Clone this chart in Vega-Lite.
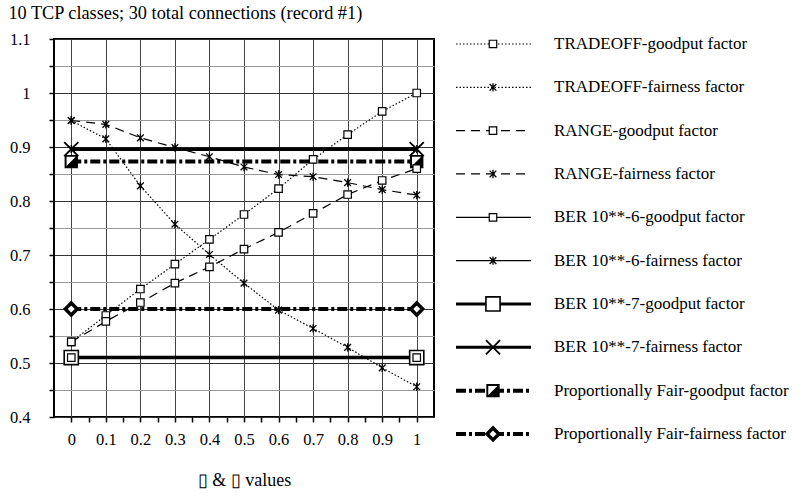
{
  "$schema": "https://vega.github.io/schema/vega-lite/v6.json",
  "padding": {"left": 8, "top": 3, "right": 0, "bottom": 0},
  "background": "white",
  "config": {
    "font": "Liberation Serif",
    "view": {"stroke": null},
    "concat": {"spacing": 22}
  },
  "title": {"text": "10 TCP classes; 30 total connections (record #1)", "anchor": "start", "fontSize": 18.3, "fontWeight": "normal", "font": "Liberation Serif", "color": "black", "offset": 7},
  "bounds": "flush",
  "datasets": {
    "main": [
      {"s": "BER 10**-7-goodput factor", "x": 0, "y": 0.51},
      {"s": "BER 10**-7-goodput factor", "x": 1, "y": 0.51},
      {"s": "BER 10**-7-fairness factor", "x": 0, "y": 0.896},
      {"s": "BER 10**-7-fairness factor", "x": 1, "y": 0.896},
      {"s": "Proportionally Fair-goodput factor", "x": 0, "y": 0.873},
      {"s": "Proportionally Fair-goodput factor", "x": 1, "y": 0.873},
      {"s": "Proportionally Fair-fairness factor", "x": 0, "y": 0.6},
      {"s": "Proportionally Fair-fairness factor", "x": 1, "y": 0.6},
      {"s": "BER 10**-6-goodput factor", "x": 0, "y": 0.51},
      {"s": "BER 10**-6-goodput factor", "x": 1, "y": 0.51},
      {"s": "BER 10**-6-fairness factor", "x": 0, "y": 0.896},
      {"s": "BER 10**-6-fairness factor", "x": 1, "y": 0.896},
      {"s": "TRADEOFF-goodput factor", "x": 0, "y": 0.539},
      {"s": "TRADEOFF-goodput factor", "x": 0.1, "y": 0.588},
      {"s": "TRADEOFF-goodput factor", "x": 0.2, "y": 0.637},
      {"s": "TRADEOFF-goodput factor", "x": 0.3, "y": 0.683},
      {"s": "TRADEOFF-goodput factor", "x": 0.4, "y": 0.729},
      {"s": "TRADEOFF-goodput factor", "x": 0.5, "y": 0.775},
      {"s": "TRADEOFF-goodput factor", "x": 0.6, "y": 0.823},
      {"s": "TRADEOFF-goodput factor", "x": 0.7, "y": 0.877},
      {"s": "TRADEOFF-goodput factor", "x": 0.8, "y": 0.923},
      {"s": "TRADEOFF-goodput factor", "x": 0.9, "y": 0.966},
      {"s": "TRADEOFF-goodput factor", "x": 1, "y": 1.0},
      {"s": "TRADEOFF-fairness factor", "x": 0, "y": 0.949},
      {"s": "TRADEOFF-fairness factor", "x": 0.1, "y": 0.915},
      {"s": "TRADEOFF-fairness factor", "x": 0.2, "y": 0.828},
      {"s": "TRADEOFF-fairness factor", "x": 0.3, "y": 0.757},
      {"s": "TRADEOFF-fairness factor", "x": 0.4, "y": 0.701},
      {"s": "TRADEOFF-fairness factor", "x": 0.5, "y": 0.648},
      {"s": "TRADEOFF-fairness factor", "x": 0.6, "y": 0.598},
      {"s": "TRADEOFF-fairness factor", "x": 0.7, "y": 0.564},
      {"s": "TRADEOFF-fairness factor", "x": 0.8, "y": 0.529},
      {"s": "TRADEOFF-fairness factor", "x": 0.9, "y": 0.491},
      {"s": "TRADEOFF-fairness factor", "x": 1, "y": 0.456},
      {"s": "RANGE-goodput factor", "x": 0, "y": 0.539},
      {"s": "RANGE-goodput factor", "x": 0.1, "y": 0.577},
      {"s": "RANGE-goodput factor", "x": 0.2, "y": 0.612},
      {"s": "RANGE-goodput factor", "x": 0.3, "y": 0.648},
      {"s": "RANGE-goodput factor", "x": 0.4, "y": 0.678},
      {"s": "RANGE-goodput factor", "x": 0.5, "y": 0.711},
      {"s": "RANGE-goodput factor", "x": 0.6, "y": 0.742},
      {"s": "RANGE-goodput factor", "x": 0.7, "y": 0.777},
      {"s": "RANGE-goodput factor", "x": 0.8, "y": 0.812},
      {"s": "RANGE-goodput factor", "x": 0.9, "y": 0.838},
      {"s": "RANGE-goodput factor", "x": 1, "y": 0.86},
      {"s": "RANGE-fairness factor", "x": 0, "y": 0.949},
      {"s": "RANGE-fairness factor", "x": 0.1, "y": 0.942},
      {"s": "RANGE-fairness factor", "x": 0.2, "y": 0.917},
      {"s": "RANGE-fairness factor", "x": 0.3, "y": 0.899},
      {"s": "RANGE-fairness factor", "x": 0.4, "y": 0.882},
      {"s": "RANGE-fairness factor", "x": 0.5, "y": 0.863},
      {"s": "RANGE-fairness factor", "x": 0.6, "y": 0.849},
      {"s": "RANGE-fairness factor", "x": 0.7, "y": 0.845},
      {"s": "RANGE-fairness factor", "x": 0.8, "y": 0.834},
      {"s": "RANGE-fairness factor", "x": 0.9, "y": 0.821},
      {"s": "RANGE-fairness factor", "x": 1, "y": 0.811}
    ],
    "legend": [
      {"s": "TRADEOFF-goodput factor", "i": 0},
      {"s": "TRADEOFF-fairness factor", "i": 1},
      {"s": "RANGE-goodput factor", "i": 2},
      {"s": "RANGE-fairness factor", "i": 3},
      {"s": "BER 10**-6-goodput factor", "i": 4},
      {"s": "BER 10**-6-fairness factor", "i": 5},
      {"s": "BER 10**-7-goodput factor", "i": 6},
      {"s": "BER 10**-7-fairness factor", "i": 7},
      {"s": "Proportionally Fair-goodput factor", "i": 8},
      {"s": "Proportionally Fair-fairness factor", "i": 9}
    ]
  },
  "resolve": {"scale": {"x": "independent", "y": "independent"}},
  "hconcat": [
    {
      "width": 380,
      "height": 378,
      "view": {"stroke": "black", "strokeWidth": 2},
      "data": {"name": "main"},
      "encoding": {
        "x": {
          "field": "x", "type": "quantitative",
          "scale": {"domain": [-0.05, 1.05], "nice": false, "zero": false},
          "axis": {
            "values": [0, 0.05, 0.1, 0.15, 0.2, 0.25, 0.3, 0.35, 0.4, 0.45, 0.5, 0.55, 0.6, 0.65, 0.7, 0.75, 0.8, 0.85, 0.9, 0.95, 1],
            "labelExpr": "abs(datum.value*10 - round(datum.value*10)) < 0.001 ? format(datum.value, '.1~f') : ''",
            "labelOverlap": false,
            "labelFontSize": 16.5, "labelColor": "black", "labelPadding": 9,
            "tickSize": 5, "tickColor": "black", "tickWidth": 1.5,
            "domain": false,
            "grid": true,
            "gridColor": "#444",
            "gridOpacity": {"condition": {"test": "abs(datum.value*10 - round(datum.value*10)) < 0.001", "value": 1}, "value": 0},
            "title": "▯ & ▯ values", "titleFontSize": 18, "titleFontWeight": "normal", "titleColor": "black", "titlePadding": 24
          }
        },
        "y": {
          "field": "y", "type": "quantitative",
          "scale": {"domain": [0.4, 1.1], "nice": false, "zero": false},
          "axis": {
            "values": [0.4, 0.45, 0.5, 0.55, 0.6, 0.65, 0.7, 0.75, 0.8, 0.85, 0.9, 0.95, 1, 1.05, 1.1],
            "labelExpr": "abs(datum.value*10 - round(datum.value*10)) < 0.001 ? format(datum.value, '.1~f') : ''",
            "labelOverlap": false,
            "labelFontSize": 16.5, "labelColor": "black", "labelPadding": 19,
            "tickSize": 5, "tickColor": "black", "tickWidth": 1.5,
            "domain": false,
            "grid": true,
            "gridColor": {"condition": {"test": "abs(datum.value*10 - round(datum.value*10)) < 0.001", "value": "#333"}, "value": "#999"},
            "title": null
          }
        }
      },
      "layer": [
        {
          "mark": {"type": "line", "color": "black", "strokeWidth": 1.2},
          "transform": [{"filter": "indexof(['TRADEOFF-goodput factor','TRADEOFF-fairness factor','RANGE-goodput factor','RANGE-fairness factor','BER 10**-6-goodput factor','BER 10**-6-fairness factor'], datum.s) >= 0"}],
          "encoding": {
            "detail": {"field": "s"},
            "strokeDash": {"field": "s", "type": "nominal", "legend": null,
              "scale": {"domain": ["TRADEOFF-goodput factor", "TRADEOFF-fairness factor", "RANGE-goodput factor", "RANGE-fairness factor", "BER 10**-6-goodput factor", "BER 10**-6-fairness factor", "BER 10**-7-goodput factor", "BER 10**-7-fairness factor", "Proportionally Fair-goodput factor", "Proportionally Fair-fairness factor"],
                "range": [[1.5, 2], [1.5, 2], [9, 6], [9, 6], [1, 0], [1, 0], [1, 0], [1, 0], [9, 3, 3, 3], [9, 3, 3, 3]]}}
          }
        },
        {
          "mark": {"type": "line", "color": "black", "strokeWidth": 3.5},
          "transform": [{"filter": "indexof(['BER 10**-7-goodput factor','BER 10**-7-fairness factor'], datum.s) >= 0"}],
          "encoding": {"detail": {"field": "s"}}
        },
        {
          "mark": {"type": "line", "color": "black", "strokeWidth": 4, "strokeDash": [10, 3, 3, 3]},
          "transform": [{"filter": "indexof(['Proportionally Fair-goodput factor','Proportionally Fair-fairness factor'], datum.s) >= 0"}],
          "encoding": {"detail": {"field": "s"}}
        },
        {
          "transform": [{"filter": "datum.s === 'BER 10**-7-goodput factor'"}],
          "mark": {"type": "point", "filled": true, "fill": "white", "stroke": "black", "strokeWidth": 1.6, "opacity": 1, "shape": "square", "size": 200}
        },
        {
          "transform": [{"filter": "datum.s === 'BER 10**-7-fairness factor'"}],
          "mark": {"type": "point", "filled": true, "fill": "white", "stroke": "black", "strokeWidth": 1.8, "opacity": 1, "shape": "M-1,-1L1,1M-1,1L1,-1", "size": 200}
        },
        {
          "transform": [{"filter": "datum.s === 'Proportionally Fair-goodput factor'"}],
          "mark": {"type": "point", "filled": true, "fill": "black", "stroke": "black", "strokeWidth": 1.5, "opacity": 1, "shape": "square", "size": 140}
        },
        {
          "transform": [{"filter": "datum.s === 'Proportionally Fair-goodput factor'"}],
          "mark": {"type": "point", "filled": true, "fill": "white", "stroke": null, "opacity": 1, "shape": "M-0.8,-0.8L0.75,-0.8L-0.8,0.75Z", "size": 140}
        },
        {
          "transform": [{"filter": "datum.s === 'Proportionally Fair-fairness factor'"}],
          "mark": {"type": "point", "filled": true, "fill": "white", "stroke": "black", "strokeWidth": 3.5, "opacity": 1, "shape": "diamond", "size": 140}
        },
        {
          "transform": [{"filter": "indexof(['TRADEOFF-goodput factor','RANGE-goodput factor','BER 10**-6-goodput factor'], datum.s) >= 0"}],
          "mark": {"type": "point", "filled": true, "fill": "white", "stroke": "black", "strokeWidth": 1.2, "opacity": 1, "shape": "square", "size": 56}
        },
        {
          "transform": [{"filter": "indexof(['TRADEOFF-fairness factor','RANGE-fairness factor','BER 10**-6-fairness factor'], datum.s) >= 0"}],
          "mark": {"type": "point", "filled": true, "fill": "white", "stroke": "black", "strokeWidth": 1.3, "opacity": 1, "shape": "M-0.8,-0.8L0.8,0.8M-0.8,0.8L0.8,-0.8M0,-1L0,1", "size": 70}
        }
      ]
    },
    {
      "width": 355,
      "height": 433,
      "data": {"name": "legend"},
      "encoding": {
        "y": {"field": "i", "type": "quantitative", "axis": null,
          "scale": {"domain": [-0.115, 9.878], "reverse": true, "nice": false, "zero": false}},
        "x": {"datum": 0, "type": "quantitative", "axis": null, "scale": {"domain": [0, 355], "nice": false, "zero": false}}
      },
      "layer": [
        {
          "mark": {"type": "rule", "color": "black", "strokeWidth": 1.2},
          "transform": [{"filter": "datum.i < 6"}],
          "encoding": {
            "x2": {"datum": 75},
            "strokeDash": {"field": "s", "type": "nominal", "legend": null}
          }
        },
        {
          "mark": {"type": "rule", "color": "black", "strokeWidth": 3},
          "transform": [{"filter": "datum.i == 6 || datum.i == 7"}],
          "encoding": {"x2": {"datum": 75}}
        },
        {
          "mark": {"type": "rule", "color": "black", "strokeWidth": 4, "strokeDash": [10, 3, 3, 3]},
          "transform": [{"filter": "datum.i >= 8"}],
          "encoding": {"x2": {"datum": 75}}
        },
        {
          "transform": [{"filter": "datum.i == 6"}],
          "mark": {"type": "point", "filled": true, "fill": "white", "stroke": "black", "strokeWidth": 1.6, "opacity": 1, "shape": "square", "size": 200},
          "encoding": {"x": {"datum": 37, "type": "quantitative"}}
        },
        {
          "transform": [{"filter": "datum.i == 7"}],
          "mark": {"type": "point", "filled": true, "fill": "white", "stroke": "black", "strokeWidth": 1.8, "opacity": 1, "shape": "M-1,-1L1,1M-1,1L1,-1", "size": 200},
          "encoding": {"x": {"datum": 37, "type": "quantitative"}}
        },
        {
          "transform": [{"filter": "datum.i == 8"}],
          "mark": {"type": "point", "filled": true, "fill": "black", "stroke": "black", "strokeWidth": 1.5, "opacity": 1, "shape": "square", "size": 140},
          "encoding": {"x": {"datum": 37, "type": "quantitative"}}
        },
        {
          "transform": [{"filter": "datum.i == 8"}],
          "mark": {"type": "point", "filled": true, "fill": "white", "stroke": null, "opacity": 1, "shape": "M-0.8,-0.8L0.75,-0.8L-0.8,0.75Z", "size": 140},
          "encoding": {"x": {"datum": 37, "type": "quantitative"}}
        },
        {
          "transform": [{"filter": "datum.i == 9"}],
          "mark": {"type": "point", "filled": true, "fill": "white", "stroke": "black", "strokeWidth": 3.5, "opacity": 1, "shape": "diamond", "size": 140},
          "encoding": {"x": {"datum": 37, "type": "quantitative"}}
        },
        {
          "transform": [{"filter": "datum.i == 0 || datum.i == 2 || datum.i == 4"}],
          "mark": {"type": "point", "filled": true, "fill": "white", "stroke": "black", "strokeWidth": 1.2, "opacity": 1, "shape": "square", "size": 56},
          "encoding": {"x": {"datum": 37, "type": "quantitative"}}
        },
        {
          "transform": [{"filter": "datum.i == 1 || datum.i == 3 || datum.i == 5"}],
          "mark": {"type": "point", "filled": true, "fill": "white", "stroke": "black", "strokeWidth": 1.3, "opacity": 1, "shape": "M-0.8,-0.8L0.8,0.8M-0.8,0.8L0.8,-0.8M0,-1L0,1", "size": 70},
          "encoding": {"x": {"datum": 37, "type": "quantitative"}}
        },
        {
          "mark": {"type": "text", "align": "left", "baseline": "middle", "fontSize": 17, "color": "black", "font": "Liberation Serif"},
          "encoding": {
            "x": {"datum": 98, "type": "quantitative"},
            "text": {"field": "s"}
          }
        }
      ]
    }
  ]
}
